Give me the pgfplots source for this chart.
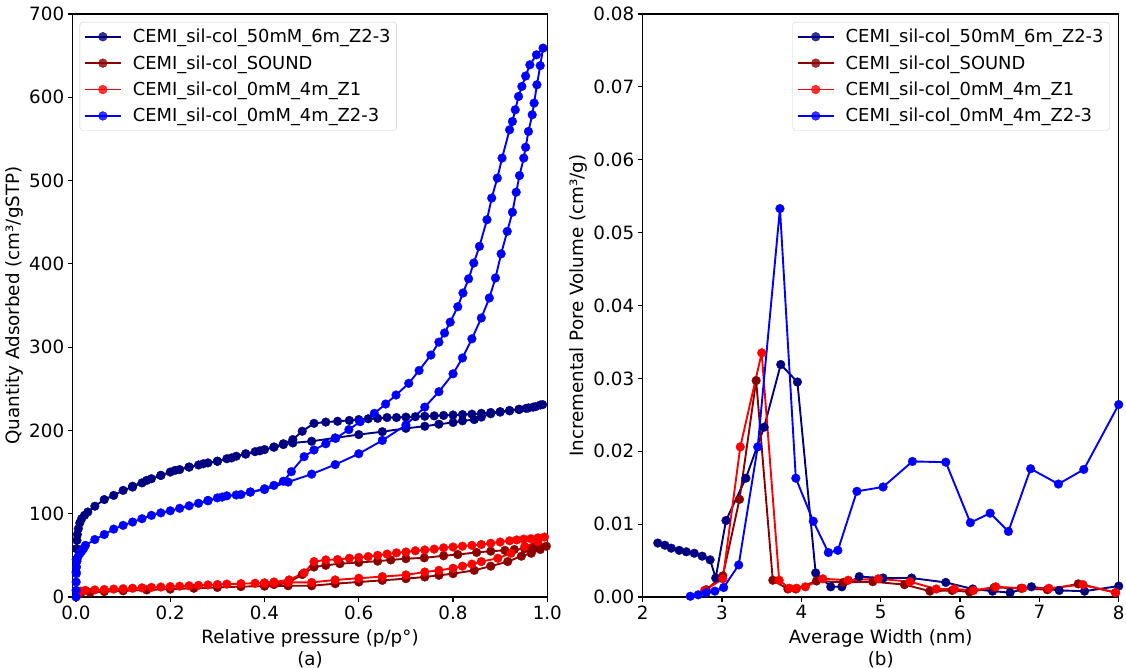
\documentclass[border=0pt]{standalone}
\usepackage{fontspec}
\setmainfont{DejaVu Sans}
\usepackage{pgfplots}
\pgfplotsset{compat=1.18}
\definecolor{cnavy}{HTML}{000080}
\definecolor{cdred}{HTML}{8B0000}
\definecolor{cred}{HTML}{FF0000}
\definecolor{cblue}{HTML}{0000FF}
\newcommand{\ff}{\fontsize{18.3}{22}\selectfont}
\newcommand{\lf}{\fontsize{17.9}{22}\selectfont}
\pgfplotsset{
  every axis/.append style={
    scale only axis,
    axis line style={line width=1.1pt},
    tick style={line width=1.1pt, black},
    major tick length=5pt,
    tick align=outside,
    xtick pos=bottom, ytick pos=left,
    tick label style={font=\ff},
    label style={font=\ff},
    /pgf/number format/assume math mode=true,
    legend cell align=left,
    legend style={font=\lf, draw=black!20, rounded corners=3pt, fill=white, fill opacity=0.8, text opacity=1,
      inner xsep=4pt, inner ysep=5pt, row sep=7.3pt},
    legend image code/.code={
      \draw[mark repeat=2,mark phase=2,#1] plot coordinates {(0pt,0pt) (18pt,0pt) (36pt,0pt)};
      \path (45pt,0pt);
    },
  },
  ser/.style={line width=1.9pt, mark=*, mark size=4.4pt, mark options={solid, line width=0.3pt, draw=#1, fill=#1}, color=#1},
}
\begin{document}
\begin{tikzpicture}
\path[use as bounding box] (0,0) rectangle (1126pt,668pt);
% ---------------- (a) ----------------
\begin{axis}[
  at={(72.7pt,71pt)}, anchor=south west,
  width=474.6pt, height=583pt,
  xmin=-0.007, xmax=1.0, ymin=0, ymax=700,
  xtick={0,0.2,0.4,0.6,0.8,1.0},
  ytick={0,100,200,300,400,500,600,700},
  xticklabel style={/pgf/number format/.cd, fixed, fixed zerofill, precision=1},
  xlabel={Relative pressure (p/p°)\\(a)},
  xlabel style={align=center, at={(axis description cs:0.5,0)}, anchor=north, yshift=-29pt},
  ylabel={Quantity Adsorbed (cm³/gSTP)},
  ylabel style={at={(axis description cs:0,0.5)}, anchor=center, rotate=0, yshift=58pt},
  legend style={at={(axis description cs:0,1)}, anchor=north west, xshift=7pt, yshift=-8pt},
]
\addplot[ser=cnavy] coordinates {
(0.0002,30)(0.0005,45)(0.001,58)(0.002,68)(0.003,75)(0.005,82)(0.008,89)(0.012,94)(0.018,98)(0.025,102)
(0.04,109)(0.06,117)(0.08,122)(0.10,128)(0.12,132)(0.14,137)(0.16,142)(0.18,146)(0.20,150)(0.22,153)
(0.24,156)(0.26,158.5)(0.28,161)(0.30,163)(0.32,166)(0.34,169)(0.36,172)(0.38,174.5)(0.40,177)(0.42,180)
(0.44,183)(0.46,185)(0.50,187)(0.55,191)(0.60,195)(0.65,198.5)(0.70,202.5)(0.74,205)(0.77,207.5)(0.80,209.5)
(0.82,211.5)(0.845,213)(0.86,216)(0.88,220)(0.90,222)(0.92,223.5)(0.94,225)(0.96,227)(0.975,228.5)(0.99,231)
(0.985,230.5)(0.97,228)(0.955,226.5)(0.94,225.5)(0.92,224)(0.90,222.5)(0.88,221.5)(0.86,220.5)(0.84,219.5)(0.82,219)
(0.80,218.5)(0.78,218)(0.76,217.5)(0.74,217)(0.72,216.5)(0.70,216)(0.68,215.5)(0.66,215.5)(0.64,214.5)(0.62,214)
(0.60,213)(0.58,212)(0.555,211)(0.53,210)(0.505,208.5)(0.48,199)(0.46,189)(0.44,184)(0.42,180)(0.39,175.5)
(0.36,171.5)(0.33,167)(0.30,163)(0.27,160)(0.24,156)(0.21,152)(0.18,146)(0.15,140)(0.12,133)
};
\addlegendentry{CEMI\_sil-col\_50mM\_6m\_Z2-3}
\addplot[ser=cdred] coordinates {
(0.005,3)(0.01,4.5)(0.03,5.5)(0.06,6.5)(0.10,7.5)(0.15,8.5)(0.20,9.5)(0.25,10.5)(0.30,11.5)(0.35,12.5)
(0.40,13)(0.45,13.5)(0.50,13.5)(0.55,16)(0.60,18)(0.65,20)(0.70,22)(0.74,24)(0.77,26)(0.80,28)
(0.845,32)(0.88,37)(0.916,42.5)(0.945,49)(0.966,52.5)(0.985,57)(0.998,61)
(0.985,60)(0.97,59)(0.952,58)(0.93,57)(0.91,56)(0.88,55)(0.85,53.5)(0.81,51)(0.78,49.5)(0.739,47)
(0.70,46)(0.668,44.5)(0.64,43)(0.60,41.5)(0.56,40)(0.53,38)(0.505,36)(0.48,27)(0.45,17)(0.42,15)(0.40,14)
};
\addlegendentry{CEMI\_sil-col\_SOUND}
\addplot[ser=cred] coordinates {
(0.005,5)(0.01,7)(0.02,8)(0.04,8.5)(0.06,9)(0.08,9.5)(0.10,10)(0.12,10.5)(0.14,11)(0.16,11.5)
(0.18,12)(0.20,12.5)(0.22,13)(0.24,13.5)(0.26,14)(0.28,14.5)(0.30,15)(0.32,15.5)(0.35,16)(0.38,16.5)
(0.40,16.5)(0.42,17)(0.45,17.5)(0.50,17.5)(0.55,20.5)(0.60,22.5)(0.65,24.5)(0.70,26.5)(0.74,30)(0.77,32)
(0.80,34.5)(0.82,37)(0.84,39.5)(0.86,42.5)(0.895,46.5)(0.923,52.5)(0.952,60.5)(0.98,66.5)(0.994,72)
(0.98,71)(0.965,70)(0.95,69.5)(0.935,68.5)(0.92,67.5)(0.90,66)(0.88,64.5)(0.86,63)(0.84,62)(0.82,61)
(0.80,60)(0.78,59)(0.76,57.5)(0.74,56.5)(0.72,55.5)(0.70,54)(0.68,53)(0.66,51.5)(0.64,50)(0.62,48.5)
(0.60,47.5)(0.58,46.5)(0.555,45)(0.53,44.5)(0.505,42.5)(0.484,29)(0.452,20.5)(0.42,18)(0.40,17)
};
\addlegendentry{CEMI\_sil-col\_0mM\_4m\_Z1}
\addplot[ser=cblue] coordinates {
(0.0000,0)(0.0002,8)(0.0004,18)(0.0007,28)(0.001,36)(0.002,43)(0.004,48)(0.008,52)(0.012,55)(0.016,58)
(0.02,62)(0.04,69)(0.06,75)(0.08,81.5)(0.10,86)(0.12,90)(0.14,94)(0.16,98)(0.18,101)(0.20,103.5)
(0.22,106.5)(0.24,109.5)(0.26,112.5)(0.28,115.5)(0.30,119)(0.32,121.5)(0.35,123)(0.37,126)(0.40,129)(0.45,138)
(0.50,147.5)(0.55,159)(0.60,172)(0.65,188)(0.70,206.5)(0.74,228)(0.77,246.5)(0.80,268)(0.82,287)(0.84,310)
(0.86,335)(0.877,359)(0.89,383)(0.902,412)(0.915,439)(0.926,462)(0.934,486)(0.941,506)(0.950,527)(0.954,540)
(0.960,559)(0.968,579)(0.972,593)(0.978,615)(0.985,638)(0.991,659)
(0.977,651)(0.963,639)(0.954,625.5)(0.946,613)(0.939,601)(0.932,585)(0.926,571)(0.920,561)(0.904,527)(0.894,503)
(0.882,479)(0.872,453)(0.856,421)(0.844,401)(0.833,382)(0.821,365)(0.810,348.5)(0.794,330)(0.782,317)(0.770,306)
(0.753,290.5)(0.728,272)(0.706,256.5)(0.679,242.5)(0.657,231.7)(0.633,220.5)(0.603,210.5)(0.579,201)(0.551,190.5)(0.530,184)
(0.505,176.5)(0.484,168.5)(0.457,150.5)(0.44,139)(0.42,134)(0.40,130)(0.37,126)(0.34,122.5)(0.31,120)(0.28,116)
};
\addlegendentry{CEMI\_sil-col\_0mM\_4m\_Z2-3}
\end{axis}
% ---------------- (b) ----------------
\begin{axis}[
  at={(642.7pt,71pt)}, anchor=south west,
  width=476pt, height=583pt,
  xmin=2, xmax=8, ymin=0, ymax=0.08,
  xtick={2,3,4,5,6,7,8},
  ytick={0,0.01,0.02,0.03,0.04,0.05,0.06,0.07,0.08},
  scaled y ticks=false,
  yticklabel style={/pgf/number format/.cd, fixed, fixed zerofill, precision=2},
  xlabel={Average Width (nm)\\(b)},
  xlabel style={align=center, at={(axis description cs:0.5,0)}, anchor=north, yshift=-29pt},
  ylabel={Incremental Pore Volume (cm³/g)},
  ylabel style={at={(axis description cs:0,0.5)}, anchor=center, rotate=0, yshift=64pt},
  legend style={at={(axis description cs:1,1)}, anchor=north east, xshift=-9pt, yshift=-8pt},
]
\addplot[ser=cnavy] coordinates {
(2.19,0.0074)(2.28,0.0071)(2.36,0.0067)(2.46,0.0064)(2.55,0.0062)(2.65,0.0060)(2.75,0.0056)(2.85,0.0051)
(2.92,0.0026)(3.05,0.0105)(3.30,0.0163)(3.53,0.0233)(3.74,0.0319)(3.95,0.0295)(4.18,0.0033)(4.37,0.0014)
(4.51,0.0014)(4.73,0.0028)(5.03,0.0026)(5.39,0.0026)(5.82,0.0020)(6.16,0.0011)(6.41,0.0008)(6.63,0.0006)
(6.90,0.0014)(7.25,0.0009)(7.57,0.0008)(8.00,0.0015)
};
\addlegendentry{CEMI\_sil-col\_50mM\_6m\_Z2-3}
\addplot[ser=cdred] coordinates {
(2.80,0.0010)(3.01,0.0029)(3.22,0.0134)(3.43,0.0297)(3.64,0.0023)(3.83,0.0011)(3.93,0.0011)(4.19,0.0022)
(4.53,0.0020)(4.90,0.0021)(5.30,0.0017)(5.62,0.0008)(5.90,0.0009)(6.12,0.0007)(6.43,0.0013)(6.77,0.0012)
(7.10,0.0010)(7.49,0.0018)(7.96,0.0006)
};
\addlegendentry{CEMI\_sil-col\_SOUND}
\addplot[ser=cred] coordinates {
(2.78,0.0009)(3.01,0.0025)(3.23,0.0206)(3.50,0.0335)(3.72,0.0023)(3.85,0.0012)(3.94,0.0012)(4.05,0.0014)
(4.27,0.0025)(4.59,0.0023)(4.97,0.0025)(5.37,0.0021)(5.70,0.0011)(5.93,0.0011)(6.17,0.0009)(6.45,0.0014)
(6.79,0.0012)(7.12,0.0012)(7.55,0.0017)(7.96,0.0006)
};
\addlegendentry{CEMI\_sil-col\_0mM\_4m\_Z1}
\addplot[ser=cblue] coordinates {
(2.60,0.0001)(2.70,0.0003)(2.80,0.0006)(2.91,0.0008)(3.02,0.0013)(3.21,0.0044)(3.45,0.0206)(3.73,0.0533)
(3.93,0.0163)(4.15,0.0104)(4.34,0.0061)(4.46,0.0064)(4.70,0.0145)(5.03,0.0151)(5.40,0.0186)(5.82,0.0185)
(6.13,0.0102)(6.38,0.0115)(6.61,0.0090)(6.89,0.0176)(7.24,0.0155)(7.56,0.0175)(8.00,0.0264)
};
\addlegendentry{CEMI\_sil-col\_0mM\_4m\_Z2-3}
\end{axis}
\end{tikzpicture}
\end{document}
